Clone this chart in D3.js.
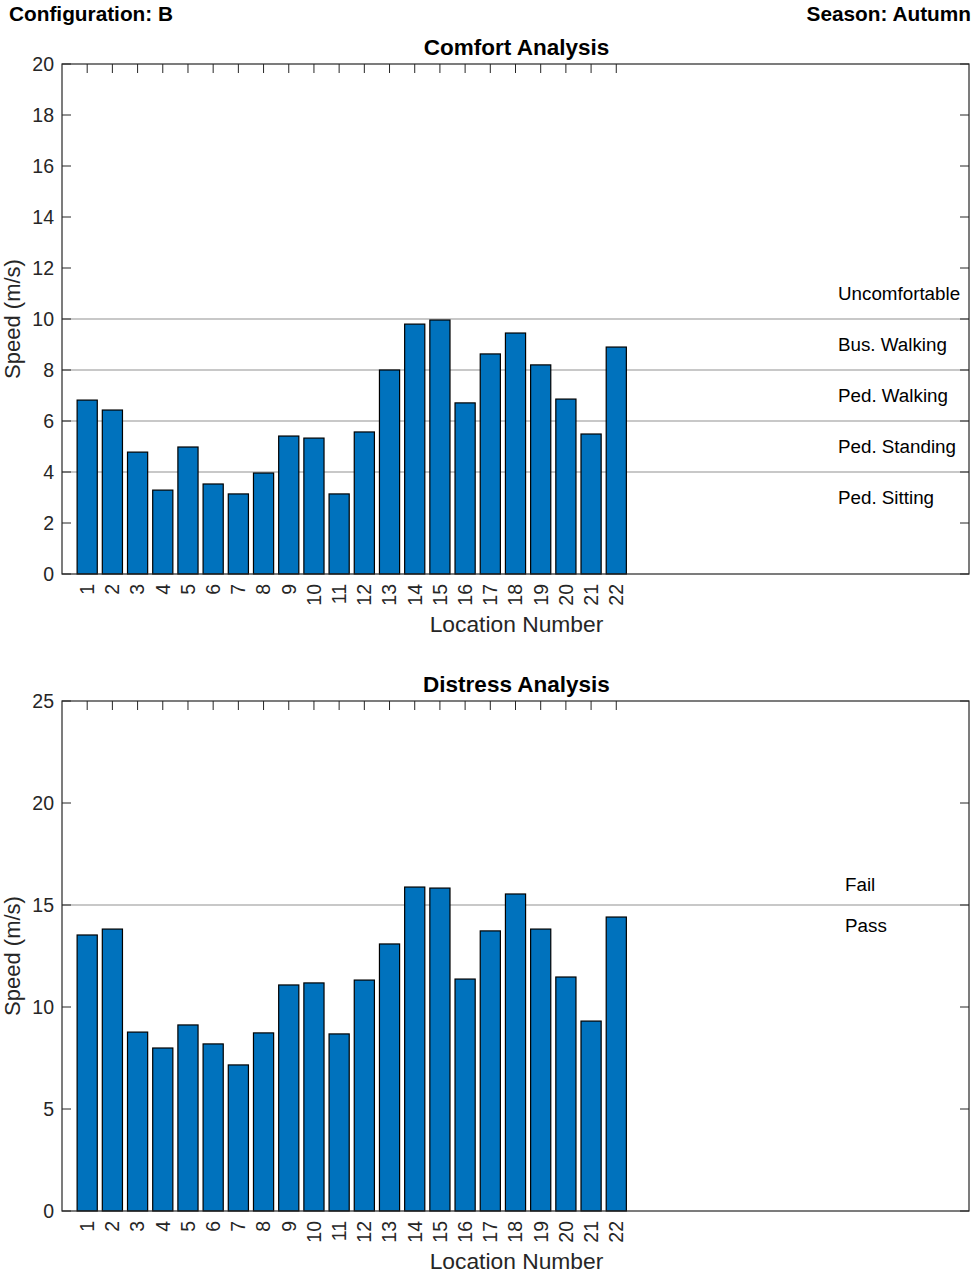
<!DOCTYPE html>
<html>
<head>
<meta charset="utf-8">
<script src="https://cdn.jsdelivr.net/npm/d3@7"></script>
<style>
  body { margin: 0; background: #fff; }
  svg { display: block; font-family: "Liberation Sans", Arial, Helvetica, sans-serif; }
</style>
</head>
<body>
<svg id="chart" width="975" height="1275"></svg>
<script>
const locations = d3.range(1, 23);
const comfortValues = [6.82, 6.43, 4.78, 3.29, 4.98, 3.53, 3.14, 3.96, 5.41, 5.33, 3.14,
                       5.57, 8.0, 9.80, 9.96, 6.71, 8.63, 9.45, 8.20, 6.86, 5.49, 8.90];
const distressValues = [13.53, 13.82, 8.77, 7.99, 9.12, 8.19, 7.16, 8.73, 11.08, 11.18, 8.68,
                        11.32, 13.09, 15.88, 15.83, 11.37, 13.73, 15.54, 13.82, 11.47, 9.31, 14.41];
const comfortTicks = [0, 2, 4, 6, 8, 10, 12, 14, 16, 18, 20];
const distressTicks = [0, 5, 10, 15, 20, 25];
const comfortLines = [4, 6, 8, 10];
const comfortLabels = [
  { text: "Uncomfortable", y: 11 },
  { text: "Bus. Walking", y: 9 },
  { text: "Ped. Walking", y: 7 },
  { text: "Ped. Standing", y: 5 },
  { text: "Ped. Sitting", y: 3 }
];
const distressLines = [15];
const distressLabels = [
  { text: "Fail", y: 16 },
  { text: "Pass", y: 14 }
];

const svg = d3.select("#chart");
const axisColor = "#262626";
const barColor = "#0072BD";

svg.append("text").attr("x", 9).attr("y", 21)
  .attr("font-size", 20.8).attr("font-weight", "bold").attr("fill", "#000")
  .text("Configuration: B");
svg.append("text").attr("x", 971).attr("y", 21).attr("text-anchor", "end")
  .attr("font-size", 20.8).attr("font-weight", "bold").attr("fill", "#000")
  .text("Season: Autumn");

function panel(opts) {
  const left = 62, right = 969;
  const { top, bottom, values, ticks, ymax, lines, labels, title, labelX } = opts;
  const x = d3.scaleLinear().domain([0, 36]).range([left, right]);
  const y = d3.scaleLinear().domain([0, ymax]).range([bottom, top]);
  const g = svg.append("g");
  const bw = x(0.8) - x(0);

  // reference lines (behind bars)
  g.selectAll("line.ref").data(lines).enter().append("line")
    .attr("x1", left).attr("x2", right)
    .attr("y1", d => y(d)).attr("y2", d => y(d))
    .attr("stroke", "#c8c8c8").attr("stroke-width", 2);

  // inward ticks (layer bottom)
  const tickLen = 9;
  ticks.forEach(t => {
    g.append("line").attr("x1", left).attr("x2", left + tickLen)
      .attr("y1", y(t)).attr("y2", y(t)).attr("stroke", axisColor);
    g.append("line").attr("x1", right).attr("x2", right - tickLen)
      .attr("y1", y(t)).attr("y2", y(t)).attr("stroke", axisColor);
  });
  locations.forEach(l => {
    g.append("line").attr("x1", x(l)).attr("x2", x(l))
      .attr("y1", top).attr("y2", top + tickLen).attr("stroke", axisColor);
    g.append("line").attr("x1", x(l)).attr("x2", x(l))
      .attr("y1", bottom).attr("y2", bottom - tickLen).attr("stroke", axisColor);
  });

  // bars
  g.selectAll("rect.bar").data(values).enter().append("rect")
    .attr("x", (d, i) => x(locations[i]) - bw / 2)
    .attr("width", bw)
    .attr("y", d => y(d))
    .attr("height", d => y(0) - y(d))
    .attr("fill", barColor).attr("stroke", "#000").attr("stroke-width", 1.2);

  // box
  g.append("rect").attr("x", left).attr("y", top)
    .attr("width", right - left).attr("height", bottom - top)
    .attr("fill", "none").attr("stroke", axisColor).attr("stroke-width", 1.2);

  // y tick labels
  g.selectAll("text.yt").data(ticks).enter().append("text")
    .attr("x", left - 8).attr("y", d => y(d)).attr("dy", "0.35em")
    .attr("text-anchor", "end").attr("font-size", 19.5).attr("fill", axisColor)
    .text(d => d);

  // x tick labels rotated
  g.selectAll("text.xt").data(locations).enter().append("text")
    .attr("transform", d => `translate(${x(d)},${bottom + 10}) rotate(-90)`)
    .attr("dy", "0.35em")
    .attr("text-anchor", "end").attr("font-size", 19.5).attr("fill", axisColor)
    .text(d => d);

  // axis labels
  g.append("text").attr("x", (left + right) / 2 + 1).attr("y", bottom + 58)
    .attr("text-anchor", "middle").attr("font-size", 22.8).attr("fill", axisColor)
    .text("Location Number");
  g.append("text")
    .attr("transform", `translate(20,${(top + bottom) / 2}) rotate(-90)`)
    .attr("text-anchor", "middle").attr("font-size", 22).attr("fill", axisColor)
    .text("Speed (m/s)");

  // title
  g.append("text").attr("x", (left + right) / 2 + 1).attr("y", top - 9)
    .attr("text-anchor", "middle").attr("font-size", 22.5).attr("font-weight", "bold")
    .attr("fill", "#000").text(title);

  // region labels
  g.selectAll("text.rl").data(labels).enter().append("text")
    .attr("x", x(labelX)).attr("y", d => y(d.y)).attr("dy", "0.35em")
    .attr("font-size", 18.8).attr("fill", "#000")
    .text(d => d.text);
}

panel({ top: 64, bottom: 574, values: comfortValues, ticks: comfortTicks, ymax: 20,
        lines: comfortLines, labels: comfortLabels, title: "Comfort Analysis", labelX: 30.8 });
panel({ top: 701, bottom: 1211, values: distressValues, ticks: distressTicks, ymax: 25,
        lines: distressLines, labels: distressLabels, title: "Distress Analysis", labelX: 31.08 });
</script>
</body>
</html>
